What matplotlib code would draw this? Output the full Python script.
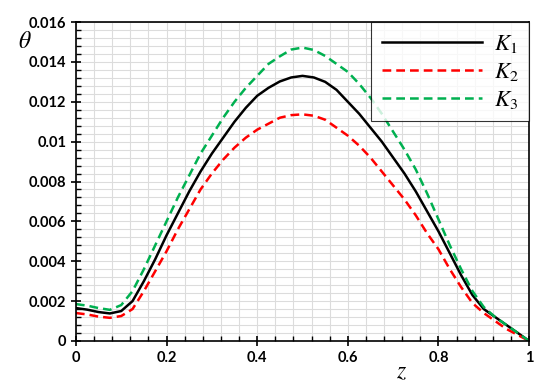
import matplotlib
matplotlib.use('Agg')
import matplotlib.pyplot as plt
from matplotlib.ticker import MultipleLocator, FuncFormatter

# values
z = [0, 0.025, 0.05, 0.075, 0.1, 0.125, 0.15, 0.175, 0.2, 0.225, 0.25, 0.275,
     0.3, 0.325, 0.35, 0.375, 0.4, 0.425, 0.45, 0.475, 0.5, 0.525, 0.55, 0.575,
     0.6, 0.625, 0.65, 0.675, 0.7, 0.725, 0.75, 0.775, 0.8, 0.825, 0.85, 0.875,
     0.9, 0.925, 0.95, 0.975, 1.0]
k1 = [0.00165, 0.00157, 0.00145, 0.00138, 0.0015, 0.002, 0.003, 0.0041, 0.0053,
      0.0064, 0.0075, 0.0085, 0.0094, 0.0102, 0.011, 0.0117, 0.0123, 0.0127,
      0.01302, 0.01322, 0.0133, 0.01322, 0.013, 0.0126, 0.012, 0.0114, 0.0107,
      0.01, 0.0092, 0.0084, 0.0075, 0.0065, 0.0055, 0.0044, 0.0033, 0.0023,
      0.0016, 0.0012, 0.0008, 0.0004, 0.0]
k2 = [0.0014, 0.00133, 0.00122, 0.00116, 0.00125, 0.0016, 0.0025, 0.0035, 0.0045,
      0.0056, 0.0066, 0.0076, 0.0084, 0.0091, 0.0097, 0.0102, 0.0106, 0.0109,
      0.0112, 0.01133, 0.01137, 0.0113, 0.0111, 0.0107, 0.0103, 0.0098, 0.0092,
      0.0085, 0.0078, 0.0071, 0.0063, 0.0054, 0.0046, 0.0036, 0.0027, 0.0019,
      0.0014, 0.001, 0.0006, 0.0003, 0.0]
k3 = [0.00185, 0.00177, 0.00165, 0.00156, 0.0018, 0.0025, 0.0036, 0.0048, 0.006,
      0.0072, 0.0083, 0.0094, 0.0103, 0.0112, 0.012, 0.0127, 0.0133, 0.0139,
      0.01428, 0.01462, 0.01472, 0.0146, 0.0143, 0.0139, 0.0135, 0.0129, 0.0122,
      0.0114, 0.0105, 0.0096, 0.0086, 0.0074, 0.0061, 0.0048, 0.0036, 0.0025,
      0.0017, 0.0012, 0.0008, 0.0004, 0.0]
labels = ['$K_1$', '$K_2$', '$K_3$']

plt.rcParams['mathtext.fontset'] = 'stix'

fig = plt.figure(figsize=(5.5, 3.87), dpi=100)
ax = fig.add_axes([0.138, 0.119, 0.824, 0.824])

ax.plot(z, k1, color='black', lw=1.8, label=labels[0])
ax.plot(z, k2, color='#ff0000', lw=1.8, dashes=(3.5, 2), label=labels[1])
ax.plot(z, k3, color='#00b050', lw=1.8, dashes=(3.5, 2), label=labels[2])

ax.set_xlim(0, 1)
ax.set_ylim(0, 0.016)
ax.xaxis.set_major_locator(MultipleLocator(0.2))
ax.xaxis.set_minor_locator(MultipleLocator(0.04))
ax.yaxis.set_major_locator(MultipleLocator(0.002))
ax.yaxis.set_minor_locator(MultipleLocator(0.0004))
ax.xaxis.set_major_formatter(FuncFormatter(lambda v, p: '%g' % round(v, 4)))
ax.yaxis.set_major_formatter(FuncFormatter(lambda v, p: '%g' % round(v, 5)))

ax.grid(True, which='both', color='#dcdcdc', lw=0.8)
ax.set_axisbelow(True)
for s in ax.spines.values():
    s.set_color('black')
    s.set_linewidth(1.2)

ax.tick_params(which='major', direction='inout', length=7, width=1.2, labelsize=10.5)
ax.tick_params(which='minor', direction='in', length=3.5, width=1)
for t in ax.get_xticklabels() + ax.get_yticklabels():
    t.set_fontweight('bold')
    t.set_family('Lato')

fig.text(0.033, 0.895, r'$\theta$', fontsize=17, ha='left', va='center')
fig.text(0.72, 0.04, r'$z$', fontsize=17, ha='left', va='center')

leg = ax.legend(loc='upper right', fontsize=16.5, handlelength=4.4, frameon=True,
                fancybox=False, borderaxespad=0, labelspacing=0.2,
                borderpad=0.45, handletextpad=0.5)
leg.get_frame().set_edgecolor('black')
leg.get_frame().set_linewidth(0.8)

fig.savefig('out.png', dpi=100)
